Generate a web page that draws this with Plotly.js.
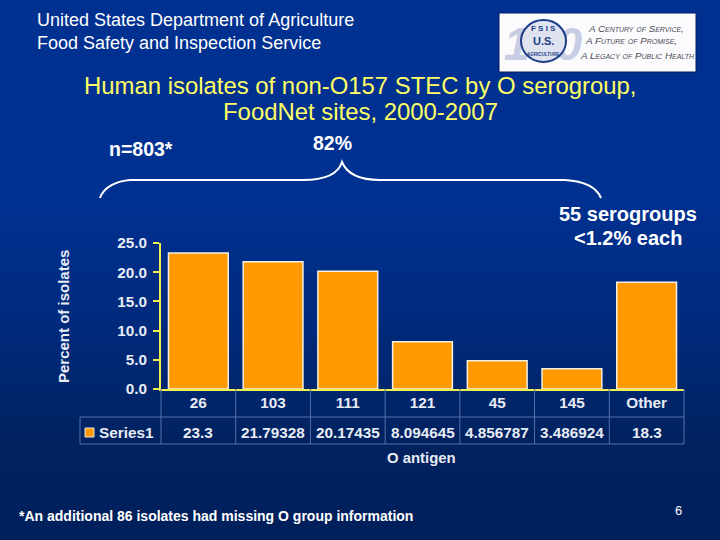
<!DOCTYPE html>
<html><head><meta charset="utf-8">
<script src="https://cdn.plot.ly/plotly-3.0.1.min.js"></script>
<style>html,body{margin:0;padding:0;width:720px;height:540px;overflow:hidden;background:linear-gradient(180deg,#003090 0%,#003090 38%,#002a7c 60%,#00225f 82%,#00205c 100%);}</style>
</head><body><div id="chart" style="width:720px;height:540px"></div>
<script>
const categories = ["26","103","111","121","45","145","Other"];
const values = [23.3,21.79328,20.17435,8.094645,4.856787,3.486924,18.3];
const valueLabels = ["23.3","21.79328","20.17435","8.094645","4.856787","3.486924","18.3"];
const yTicks = [0,5,10,15,20,25];
const yTickLabels = ["0.0","5.0","10.0","15.0","20.0","25.0"];
const seriesName = "Series1";

const L=161,R=684,T=243,B=389;
const px=x=>(x-L)/(R-L), py=y=>(B-y)/(B-T);
const F="Liberation Sans, Arial, sans-serif";
function note(text,x,y,size,opt={}){
  return Object.assign({text,x:px(x),y:py(y),xref:'paper',yref:'paper',showarrow:false,
    xanchor:'center',yanchor:'middle',font:{family:F,size,color:'#fff'}},opt);
}
function line(x0,y0,x1,y1,color,width){
  return {type:'line',xref:'paper',yref:'paper',x0:px(x0),y0:py(y0),x1:px(x1),y1:py(y1),line:{color,width},layer:'above'};
}
const soft='#e8ecf4', logoInk='#4a4a55';
const logoFont={family:F,size:9.8,color:logoInk,style:'italic',variant:'small-caps'};
const ann=[
  note("United States Department of Agriculture",35,20.5,18,{xanchor:'left'}),
  note("Food Safety and Inspection Service",35,42.5,18,{xanchor:'left'}),
  note("Human isolates of non-O157 STEC by O serogroup,",360,85,23.9,{font:{family:F,size:23.9,color:'#ffff66'}}),
  note("FoodNet sites, 2000-2007",360,111,23.9,{font:{family:F,size:23.9,color:'#ffff66'}}),
  note("<b>n=803*</b>",141,149,19.5),
  note("<b>82%</b>",332,143,19.5),
  note("<b>55 serogroups</b>",628,214,20),
  note("<b>&lt;1.2% each</b>",628,238,20),
  note("<b>Percent of isolates</b>",63,317,15,{textangle:-90,font:{family:F,size:15,color:soft}}),
  note("<b>O antigen</b>",421,458,14.9,{font:{family:F,size:14.9,color:soft}}),
  note("<b>"+seriesName+"</b>",126,432,15.3,{font:{family:F,size:15.3,color:soft}}),
  note("<b>*An additional 86 isolates had missing O group information</b>",17,516,14,{xanchor:'left'}),
  note("6",678,510,13),
  // logo text
  note("<b>F S I S</b>",543,28,8,{font:{family:F,size:8,color:'#1c3b88'}}),
  note("<b>U.S.</b>",543,41,11,{font:{family:F,size:11,color:'#1c3b88'}}),
  note("<b>AGRICULTURE</b>",543,54,4.5,{font:{family:F,size:4.5,color:'#1c3b88'}}),
  note("A Century of Service,",586,28,9.8,{xanchor:'left',font:logoFont}),
  note("A Future of Promise,",583,41,9.8,{xanchor:'left',font:logoFont}),
  note("A Legacy of Public Health",578,55,9.8,{xanchor:'left',font:logoFont}),
];
const cw=(R-L)/7;
valueLabels.forEach((t,i)=>ann.push(note("<b>"+t+"</b>",L+cw*(i+0.5),432,15.3,{font:{family:F,size:15.3,color:soft}})));
const grid='#5570aa';
const shapes=[
  {type:'rect',xref:'paper',yref:'paper',x0:px(499),x1:px(696),y0:py(13),y1:py(72),fillcolor:'#fbfbfd',line:{color:'#001a60',width:1},layer:'below'},
  {type:'rect',xref:'paper',yref:'paper',x0:px(505),x1:px(581),y0:py(18),y1:py(60),fillcolor:'rgba(0,0,0,0)',line:{width:0},layer:'below',
   label:{text:"<b><i>100</i></b>",textposition:'middle center',font:{family:F,size:47,color:'#c9cde3'}}},
  {type:'circle',xref:'paper',yref:'paper',x0:px(521),x1:px(566),y0:py(20),y1:py(62),fillcolor:'#dfe3f0',line:{color:'#1c3b88',width:2},layer:'below'},
  line(80,417,R,417,grid,1), line(80,444,R,444,grid,1), line(80,417,80,444,grid,1),
  line(R,389,R,444,grid,1),
  {type:'rect',xref:'paper',yref:'paper',x0:px(85),x1:px(94),y0:py(428),y1:py(437),fillcolor:'#FF9900',line:{color:'#e8e8e8',width:1},layer:'above'},
  {type:'path',xref:'paper',yref:'paper',layer:'above',line:{color:'#fff',width:2},
   path:`M ${px(100)} ${py(198)} C ${px(104)} ${py(186)}, ${px(118)} ${py(181)}, ${px(130)} ${py(180)} L ${px(303)} ${py(180)} C ${px(325)} ${py(180)}, ${px(338)} ${py(175)}, ${px(342)} ${py(162)} C ${px(347)} ${py(174)}, ${px(360)} ${py(180)}, ${px(380)} ${py(180)} L ${px(565)} ${py(180)} C ${px(582)} ${py(181)}, ${px(596)} ${py(186)}, ${px(601)} ${py(198)}`}
];
for(let i=0;i<7;i++) shapes.push(line(L+cw*i,389,L+cw*i,444,grid,1));

Plotly.newPlot('chart',[{type:'bar',x:categories,y:values,marker:{color:'#FF9900',line:{color:'#f4f0e4',width:1.5}},showlegend:false}],{
  width:720,height:540,margin:{l:L,r:720-R,t:T,b:540-B},
  paper_bgcolor:'rgba(0,0,0,0)',plot_bgcolor:'rgba(0,0,0,0)',bargap:0.2,
  xaxis:{type:'category',categoryorder:'array',categoryarray:categories,tickfont:{family:F,size:15.3,color:soft,weight:'bold'},showline:true,linecolor:'#F0F050',linewidth:2,ticks:'',showgrid:false,zeroline:false,fixedrange:true,ticklabelstandoff:-1},
  yaxis:{range:[0,25],tickvals:yTicks,ticktext:yTickLabels,tickfont:{family:F,size:15.3,color:soft,weight:'bold'},showline:true,linecolor:'#F0F050',linewidth:2,ticks:'outside',ticklen:6,tickwidth:2,tickcolor:'#F0F050',showgrid:false,zeroline:false,fixedrange:true,ticklabelstandoff:3},
  annotations:ann,shapes:shapes
},{displayModeBar:false,staticPlot:true});
</script></body></html>
